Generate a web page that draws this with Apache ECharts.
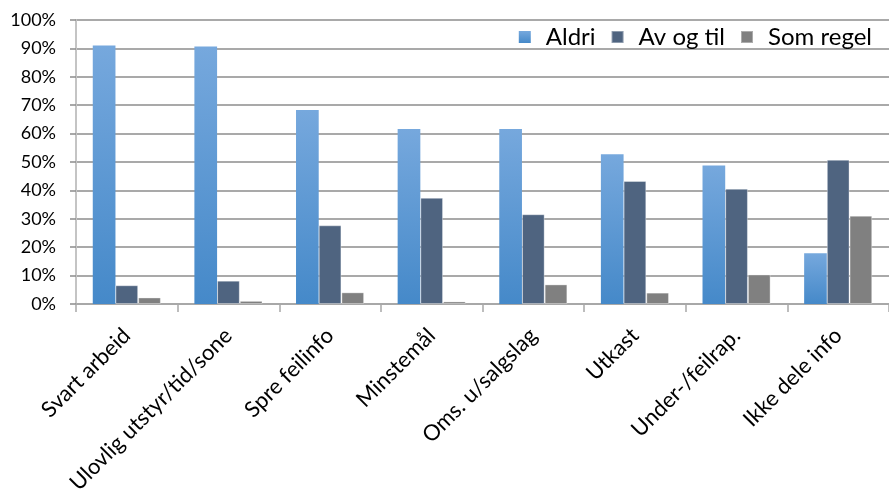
<!DOCTYPE html>
<html>
<head>
<meta charset="utf-8">
<script src="https://cdn.jsdelivr.net/npm/echarts@6/dist/echarts.min.js"></script>
<style>
    html, body { margin: 0; padding: 0; background: #fff; }
    #chart { width: 889px; height: 498px; }
</style>
</head>
<body>
<div id="chart"></div>
<script>
    // kategorier og verdier (andel i %)
    var categories = ['Svart arbeid', 'Ulovlig utstyr/tid/sone', 'Spre feilinfo', 'Minstemål',
        'Oms. u/salgslag', 'Utkast', 'Under-/feilrap.', 'Ikke dele info'];
    var aldri = [91.0, 90.7, 68.3, 61.6, 61.6, 52.7, 48.8, 17.9];
    var avOgTil = [6.6, 8.2, 27.7, 37.4, 31.6, 43.3, 40.6, 50.8];
    var somRegel = [2.3, 1.1, 4.1, 0.9, 6.9, 4.0, 10.4, 31.1];
    var seriesNames = ['Aldri', 'Av og til', 'Som regel'];

    var font = 'Lato, "Open Sans", sans-serif';
    var myChart = echarts.init(document.getElementById('chart'));

    var aldriColor = new echarts.graphic.LinearGradient(0, 0, 0, 1, [
        {offset: 0, color: '#76a8dd'},
        {offset: 1, color: '#4589c9'}
    ]);

    var options = {
        animation: false,
        textStyle: {fontFamily: font},
        legend: {
            right: 12,
            top: 20,
            itemWidth: 12,
            itemHeight: 12,
            itemGap: 15,
            icon: 'rect',
            textStyle: {fontSize: 24, color: '#000', fontFamily: font, padding: [0, 0, 0, 10]},
            data: seriesNames
        },
        grid: {
            left: 76,
            top: 20,
            width: 820,
            bottom: 194,
            containLabel: false
        },
        xAxis: {
            type: 'category',
            data: categories,
            axisLine: {lineStyle: {color: '#a8a8a8', width: 1.5}},
            axisTick: {show: true, length: 8, lineStyle: {color: '#a8a8a8', width: 1.5}},
            axisLabel: {
                rotate: 45,
                margin: 28,
                fontSize: 22,
                color: '#000',
                fontFamily: font,
                interval: 0
            }
        },
        yAxis: {
            type: 'value',
            min: 0,
            max: 100,
            interval: 10,
            axisLine: {show: true, lineStyle: {color: '#c4c4c4', width: 2}},
            axisTick: {show: true, length: 6, lineStyle: {color: '#8c8c8c', width: 1.5}},
            axisLabel: {
                formatter: '{value}%',
                fontSize: 18,
                color: '#000',
                margin: 20,
                fontFamily: font
            },
            splitLine: {lineStyle: {color: '#8c8c8c', width: 1.5}}
        },
        series: [
            {
                name: seriesNames[0],
                type: 'bar',
                barGap: '0%',
                barCategoryGap: '33%',
                itemStyle: {color: aldriColor},
                data: aldri
            },
            {
                name: seriesNames[1],
                type: 'bar',
                itemStyle: {color: '#4f6480', borderColor: 'rgba(255,255,255,0.35)', borderWidth: 1},
                data: avOgTil
            },
            {
                name: seriesNames[2],
                type: 'bar',
                itemStyle: {color: '#808080', borderColor: 'rgba(255,255,255,0.35)', borderWidth: 1},
                data: somRegel
            }
        ]
    };
    myChart.setOption(options);
</script>
</body>
</html>
